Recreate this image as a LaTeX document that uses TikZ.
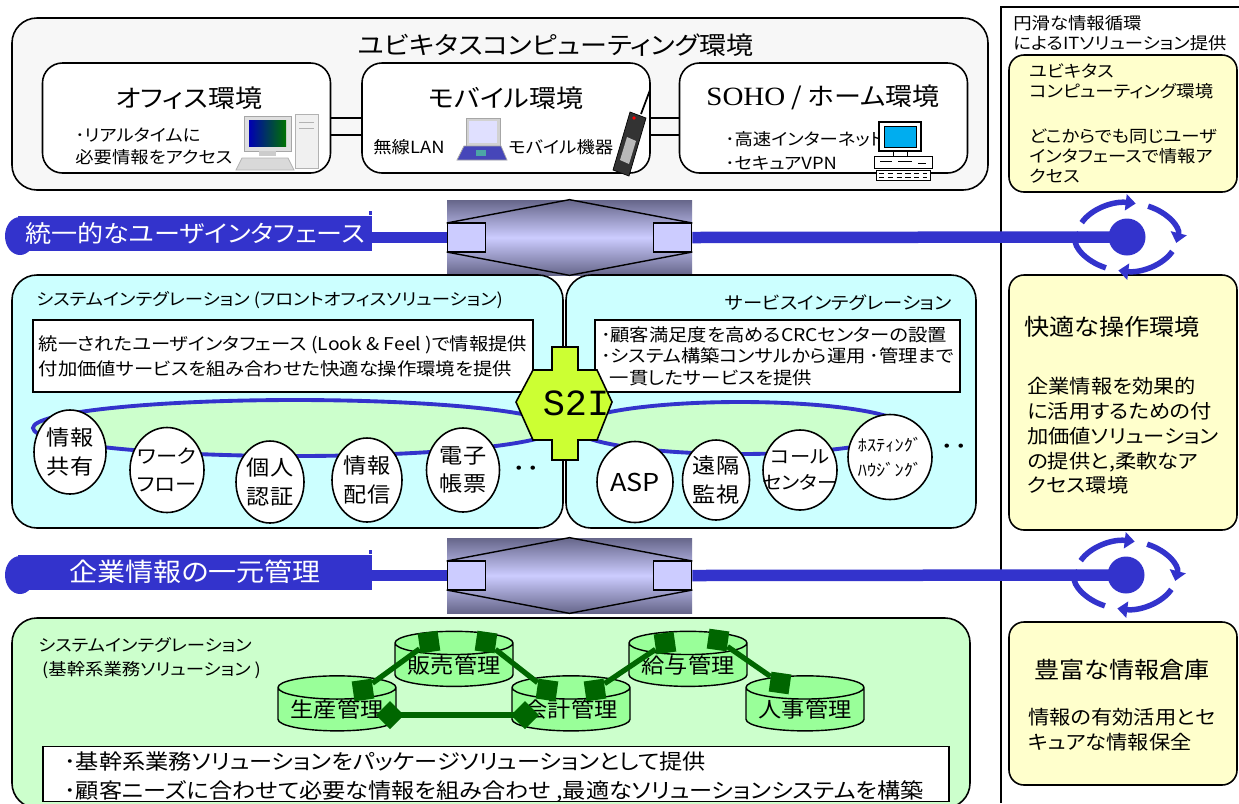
\documentclass[tikz,border=0pt]{standalone}
\usepackage{fontspec}
\setmainfont[FakeStretch=1.1, RawFeature=+palt]{Noto Sans CJK JP}
\newfontfamily\sohoserif[FakeStretch=1.1]{Liberation Serif}
\newfontfamily\hubmono{Liberation Mono}
\usetikzlibrary{shapes.geometric, arrows.meta}

\definecolor{ribbonblue}{HTML}{3333CC}
\definecolor{paleground}{HTML}{F7F7F7}
\definecolor{icecyan}{HTML}{CCFFFF}
\definecolor{mintgreen}{HTML}{CCFFCC}
\definecolor{dbgreen}{HTML}{99FF99}
\definecolor{linkgreen}{HTML}{006600}
\definecolor{creamy}{HTML}{FFFFCC}
\definecolor{limey}{HTML}{CCFF33}
\definecolor{hubdark}{HTML}{66668A}
\definecolor{hublight}{HTML}{CCCCFF}

\tikzset{
    panel/.style={draw, rounded corners=5mm, line width=0.9pt, inner sep=0pt},
    envbox/.style={draw, fill=white, rounded corners=4mm, line width=0.9pt, minimum width=57.6mm, minimum height=22mm},
    envtitle/.style={font=\fontsize{14}{16}\selectfont},
    envtext/.style={align=left, inner sep=0pt, font=\fontsize{9.5}{12.5}\selectfont},
    notebox/.style={draw, fill=creamy, rounded corners=3mm, line width=0.9pt, minimum width=45.6mm, align=left},
    textbox/.style={draw, fill=white, line width=0.9pt, align=left},
    band/.style={fill=ribbonblue, text=white, minimum width=70.8mm, minimum height=7mm, inner sep=0pt},
    hub/.style={minimum width=49mm, minimum height=15mm, top color=hubdark, bottom color=hubdark, middle color=hublight, inner sep=0pt},
    plug/.style={draw, fill=hublight, line width=0.8pt, minimum width=7.6mm, minimum height=5.8mm, inner sep=0pt},
    hubline/.style={ribbonblue, line width=2.3mm},
    eye/.style={circle, fill=ribbonblue, minimum size=7.4mm, inner sep=0pt},
    ringarrow/.style={ribbonblue, line width=1.1mm, -{Triangle[length=2mm,width=3.2mm]}},
    ring/.style={ellipse, draw=ribbonblue, line width=2.2pt, fill=mintgreen, inner sep=0pt},
    bubble/.style={ellipse, draw, fill=white, line width=0.9pt, inner sep=0pt},
    bubtext/.style={align=center, inner sep=0pt, font=\fontsize{12}{16}\selectfont},
    drum/.style={cylinder, shape border rotate=90, aspect=0.25, draw, line width=0.8pt, cylinder uses custom fill, cylinder body fill=dbgreen, cylinder end fill=dbgreen, minimum width=23.6mm, minimum height=11mm, inner sep=0pt, font=\fontsize{12}{14}\selectfont},
    pin/.style={rectangle, fill=linkgreen, minimum size=4mm, inner sep=0pt},
    glink/.style={linkgreen, line width=3pt},
    dmlink/.style={linkgreen, line width=3pt, {Turned Square[length=5.6mm,width=5.6mm]}-{Turned Square[length=5.6mm,width=5.6mm]}, shorten <=-2.8mm, shorten >=-2.8mm}
}

\begin{document}
\begin{tikzpicture}[x=0.2mm, y=-0.2mm]
\useasboundingbox (0,0) rectangle (1239,803);
\clip (0,0) rectangle (1239,803);
\fill[white] (0,0) rectangle (1239,803);

% ubiquitous computing block
\node[panel, fill=paleground, minimum width=195.2mm, minimum height=34.4mm] (ubiq) at (500,104) {};
\node[font=\fontsize{14}{16}\selectfont] (ubiqtitle) at (556,45) {ユビキタスコンピューティング環境};
\node[envbox] (office) at (186.5,118) {};
\node[envbox] (mobile) at (506,118) {};
\node[envbox] (soho) at (823.5,118) {};
\draw[line width=0.9pt] (office.east) -- (mobile.west) (mobile.east) -- (soho.west);
\draw[line width=0.9pt] ([yshift=-3.4mm]office.east) -- ([yshift=-3.4mm]mobile.west)
    ([yshift=-3.4mm]mobile.east) -- ([yshift=-3.4mm]soho.west);

\node[envtitle] (officetitle) at (189,98) {オフィス環境};
\node[envtext, anchor=west] (officetext) at (75,146) {･リアルタイムに\\必要情報をアクセス};
\node[envtitle] (mobiletitle) at (506,98) {モバイル環境};
\node[envtext, anchor=west] (wlan) at (373,147) {無線LAN};
\node[envtext, anchor=west] (mobdev) at (508,147) {モバイル機器};
\node[envtitle] (sohotitle) at (823,97) {{\sohoserif\fontsize{15}{16}\selectfont SOHO} / ホーム環境};
\node[envtext, anchor=west, font=\fontsize{9.5}{14}\selectfont] (sohotext) at (725,151) {･高速インターネット\\･セキュアVPN};

% desktop pc
\filldraw[fill=gray!25, draw=gray!70] (244,116) rectangle (291,151);
\shade[left color=blue!70!black, right color=green!45!black] (249,120) rectangle (286,146);
\fill[gray!40] (259,151) rectangle (276,156);
\filldraw[fill=gray!12, draw=gray!60] (295,114) rectangle (318,168);
\draw[gray!60] (299,122) -- (314,122) (299,128) -- (314,128);
\filldraw[fill=gray!30, draw=gray!60] (242,158) -- (288,158) -- (294,170) -- (236,170) -- cycle;
% laptop
\filldraw[fill=gray!35, draw=gray!70] (466,118) rectangle (500,146);
\fill[blue!12] (469,121) rectangle (497,143);
\filldraw[fill=blue!45!gray, draw=gray!70] (464,146) -- (501,146) -- (507,160) -- (457,160) -- cycle;
\fill[teal!70] (476,150) rectangle (486,156);
% handset
\filldraw[fill=black!80, draw=black] (613,170) -- (629,176) -- (646,118) -- (630,112) -- cycle;
\fill[gray!55] (620,160) -- (629,164) -- (636,141) -- (627,137) -- cycle;
\draw[line width=1pt] (641,114) -- (650,90);
\fill[red] (634,118) circle (1.8);
% home pc
\filldraw[fill=white, draw=black, line width=0.8pt] (879,122) rectangle (921,151);
\filldraw[fill=cyan, draw=black] (884,126) rectangle (916,147);
\draw (893,151) -- (893,156) (907,151) -- (907,156);
\filldraw[fill=white, draw=black] (874,156) rectangle (932,168);
\draw (880,161) -- (892,161) (898,161) -- (912,161) (918,163) -- (926,163);
\filldraw[fill=white, draw=black] (876,170) rectangle (930,180);
\draw[densely dashed] (879,173) -- (927,173) (879,177) -- (927,177);

% right column
\draw[line width=0.9pt] (1001,803) -- (1001,7) -- (1239,7);
\node[anchor=north west, align=left, inner sep=0pt, font=\fontsize{9.5}{11.4}\selectfont] (cyclehead) at (1013,15) {円滑な情報循環\\によるITソリューション提供};
\node[notebox, minimum height=27.4mm, font=\fontsize{9.5}{11.4}\selectfont] (ubinote) at (1123,123.5)
    {ユビキタス\\コンピューティング環境\\[5mm]どこからでも同じユーザ\\インタフェースで情報ア\\クセス};
\node[notebox, minimum height=51mm] (comfort) at (1123,402.5) {};
\node[font=\fontsize{13}{15}\selectfont] (comforttitle) at (1112,327) {快適な操作環境};
\node[anchor=north west, align=left, inner sep=0pt, font=\fontsize{11}{14.1}\selectfont] (comforttext) at (1027,377)
    {企業情報を効果的\\に活用するための付\\加価値ソリューション\\の提供と,柔軟なア\\クセス環境};
\node[notebox, minimum height=32.6mm] (store) at (1123,703.5) {};
\node[font=\fontsize{13}{15}\selectfont] (storetitle) at (1122,670) {豊富な情報倉庫};
\node[anchor=north west, align=left, inner sep=0pt, font=\fontsize{11}{14.2}\selectfont] (storetext) at (1028,708)
    {情報の有効活用とセ\\キュアな情報保全};

% unified user interface band
\node[eye] (eye1) at (1127,237) {};
\node[hub] (hub1) at (569.5,237.5) {};
\fill[ribbonblue] (20,236) ellipse [x radius=15, y radius=19];
\node[band, font=\fontsize{13.5}{15}\selectfont] (uiband) at (195,233) {統一的なユーザインタフェース};
\fill[ribbonblue] ([xshift=-0.6mm]uiband.north east) rectangle ++(0.6mm,0.8mm);
\draw[hubline] (uiband.east |- hub1.west) -- (hub1.west);
\draw[hubline] (hub1.east) -- (eye1.center);
\draw[line width=0.8pt] ([yshift=2.9mm]hub1.west) -- (hub1.north) -- ([yshift=2.9mm]hub1.east);
\draw[line width=0.8pt] ([yshift=-2.9mm]hub1.west) -- (hub1.south) -- ([yshift=-2.9mm]hub1.east);
\node[plug, anchor=west] (plug1l) at (hub1.west) {};
\node[plug, anchor=east] (plug1r) at (hub1.east) {};
\draw[ringarrow] (eye1.center) ++(205:50 and 34) arc[start angle=205, end angle=280, x radius=50, y radius=34];
\draw[ringarrow] (eye1.center) ++(295:50 and 34) arc[start angle=295, end angle=370, x radius=50, y radius=34];
\draw[ringarrow] (eye1.center) ++(25:50 and 34) arc[start angle=25, end angle=100, x radius=50, y radius=34];
\draw[ringarrow] (eye1.center) ++(115:50 and 34) arc[start angle=115, end angle=190, x radius=50, y radius=34];

% front office and service integration
\node[panel, fill=icecyan, minimum width=110.2mm, minimum height=50.6mm] (frontsi) at (287.5,401.5) {};
\node[panel, fill=icecyan, minimum width=82mm, minimum height=50.6mm] (servsi) at (771,401.5) {};
\node[anchor=west, font=\fontsize{9.5}{11}\selectfont] (fronttitle) at (30,300) {システムインテグレーション (フロントオフィスソリューション)};
\node[anchor=east, font=\fontsize{10}{12}\selectfont] (servtitle) at (958,303) {サービスインテグレーション};
\node[textbox, minimum width=99.6mm, minimum height=14.4mm, font=\fontsize{10}{14.2}\selectfont] (frontnote) at (283,356)
    {統一されたユーザインタフェース (Look \& Feel )で情報提供\\付加価値サービスを組み合わせた快適な操作環境を提供};
\node[textbox, minimum width=72.2mm, minimum height=14.4mm, font=\fontsize{10}{12.2}\selectfont] (servnote) at (777.5,356)
    {･顧客満足度を高めるCRCセンターの設置\\･システム構築コンサルから運用 ･管理まで\\\hspace{0.5em}一貫したサービスを提供};
\node[ring, minimum width=104.8mm, minimum height=11.2mm] (frontring) at (295,428) {};
\node[ring, minimum width=66mm, minimum height=10.4mm] (servring) at (740,428) {};

\node[bubble, minimum width=14.4mm, minimum height=16.8mm, label={[bubtext]center:{情報\\共有}}] (share) at (70,452) {};
\node[bubble, minimum width=14.8mm, minimum height=17mm, label={[bubtext, font=\fontsize{11}{16}\selectfont]center:{ワーク\\フロー}}] (flow) at (167,470) {};
\node[bubble, minimum width=13.6mm, minimum height=16.4mm, label={[bubtext]center:{個人\\認証}}] (auth) at (270,482) {};
\node[bubble, minimum width=14mm, minimum height=16.8mm, label={[bubtext]center:{情報\\配信}}] (deliver) at (367,480) {};
\node[bubble, minimum width=14.6mm, minimum height=16.8mm, label={[bubtext]center:{電子\\帳票}}] (forms) at (463,470) {};
\node[font=\fontsize{14}{14}\selectfont] (frontmore) at (526,472) {･･};
\node[bubble, minimum width=15.2mm, minimum height=16.2mm, label={[bubtext, font=\fontsize{14}{16}\selectfont]center:ASP}] (asp) at (635,482) {};
\node[bubble, minimum width=13.4mm, minimum height=16mm, label={[bubtext]center:{遠隔\\監視}}] (remote) at (716,480) {};
\node[bubble, minimum width=14.8mm, minimum height=16mm, label={[bubtext, font=\fontsize{10.5}{15}\selectfont]center:{コール\\センター}}] (callc) at (800,470) {};
\node[bubble, minimum width=16.8mm, minimum height=17mm, label={[bubtext, font=\fontsize{9.5}{14}\selectfont]center:{ﾎｽﾃｨﾝｸﾞ\\ﾊｳｼﾞﾝｸﾞ}}] (hosting) at (890,457) {};
\node[font=\fontsize{14}{14}\selectfont] (servmore) at (954,450) {･･};

% S2I joint
\filldraw[fill=limey, line width=0.9pt] (552,347) -- (578,347) -- (578,370) -- (597,370) -- (612,402)
    -- (597,440) -- (578,440) -- (578,460) -- (552,460) -- (552,440) -- (533,440) -- (516,402)
    -- (533,370) -- (552,370) -- cycle;
\node[font=\hubmono\fontsize{21}{21}\selectfont] (s2i) at (576,403) {S2I};

% enterprise information band
\node[eye] (eye2) at (1126,575) {};
\node[hub] (hub2) at (569.5,575.5) {};
\fill[ribbonblue] (20,575) ellipse [x radius=15, y radius=19];
\node[band, font=\fontsize{14.5}{16}\selectfont] (infoband) at (195,572) {企業情報の一元管理};
\fill[ribbonblue] ([xshift=-0.6mm]infoband.north east) rectangle ++(0.6mm,0.8mm);
\draw[hubline] (infoband.east |- hub2.west) -- (hub2.west);
\draw[hubline] (hub2.east) -- (eye2.center);
\draw[line width=0.8pt] ([yshift=2.9mm]hub2.west) -- (hub2.north) -- ([yshift=2.9mm]hub2.east);
\draw[line width=0.8pt] ([yshift=-2.9mm]hub2.west) -- (hub2.south) -- ([yshift=-2.9mm]hub2.east);
\node[plug, anchor=west] (plug2l) at (hub2.west) {};
\node[plug, anchor=east] (plug2r) at (hub2.east) {};
\draw[ringarrow] (eye2.center) ++(205:50 and 34) arc[start angle=205, end angle=280, x radius=50, y radius=34];
\draw[ringarrow] (eye2.center) ++(295:50 and 34) arc[start angle=295, end angle=370, x radius=50, y radius=34];
\draw[ringarrow] (eye2.center) ++(25:50 and 34) arc[start angle=25, end angle=100, x radius=50, y radius=34];
\draw[ringarrow] (eye2.center) ++(115:50 and 34) arc[start angle=115, end angle=190, x radius=50, y radius=34];

% core business solutions
\node[panel, fill=mintgreen, minimum width=191.6mm, minimum height=38mm] (coresi) at (491,713) {};
\node[anchor=west, font=\fontsize{9.5}{11}\selectfont] (coretitle) at (32,645) {システムインテグレーション};
\node[anchor=west, font=\fontsize{9.5}{11}\selectfont] (coresub) at (36,670) {(基幹系業務ソリューション )};
\node[drum] (sales) at (454,665) {販売管理};
\node[drum] (payroll) at (688,665) {給与管理};
\node[drum] (prod) at (337,709.5) {生産管理};
\node[drum] (acct) at (571,709.5) {会計管理};
\node[drum] (hr) at (805,709.5) {人事管理};
\node[pin, rotate=8] (prodpin) at ([xshift=5.2mm,yshift=3.9mm]prod.center) {};
\node[pin, rotate=8] (salespin1) at ([xshift=-5mm,yshift=4.6mm]sales.center) {};
\node[pin, rotate=-8] (salespin2) at ([xshift=6.4mm,yshift=4.6mm]sales.center) {};
\node[pin, rotate=-8] (acctpin1) at ([xshift=-4.8mm,yshift=3.9mm]acct.center) {};
\node[pin, rotate=8] (acctpin2) at ([xshift=4.8mm,yshift=3.9mm]acct.center) {};
\node[pin, rotate=8] (paypin1) at ([xshift=-4.6mm,yshift=4.4mm]payroll.center) {};
\node[pin, rotate=-8] (paypin2) at ([xshift=6mm,yshift=5mm]payroll.center) {};
\node[pin, rotate=-8] (hrpin) at ([xshift=-5mm,yshift=5.3mm]hr.center) {};
\draw[glink] (prodpin) -- (salespin1);
\draw[glink] (salespin2) -- (acctpin1);
\draw[glink] (acctpin2) -- (paypin1);
\draw[glink] (paypin2) -- (hrpin);
\draw[dmlink] ([xshift=10.6mm,yshift=-1.1mm]prod.center) -- ([xshift=-9.2mm,yshift=-1.1mm]acct.center);
\node[textbox, minimum width=181.2mm, minimum height=11mm] (corenote) at (496,774) {};
\node[anchor=north west, align=left, inner sep=0pt, font=\fontsize{12}{16.5}\selectfont] (coretext) at (64,751)
    {･基幹系業務ソリューションをパッケージソリューションとして提供\\･顧客ニーズに合わせて必要な情報を組み合わせ ,最適なソリューションシステムを構築};
\end{tikzpicture}
\end{document}
